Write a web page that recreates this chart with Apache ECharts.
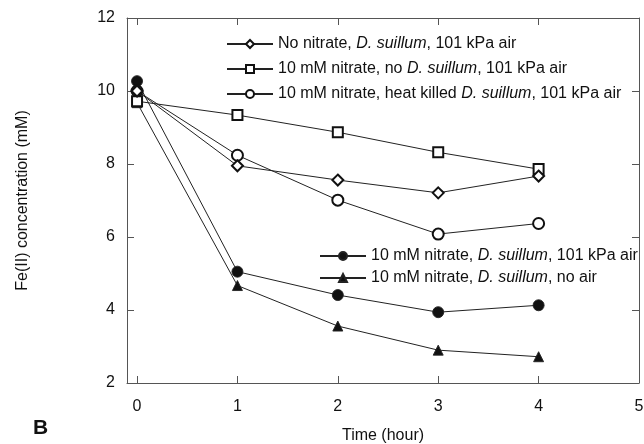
<!DOCTYPE html>
<html>
<head>
<meta charset="utf-8">
<script src="https://cdn.jsdelivr.net/npm/echarts@6/dist/echarts.min.js"></script>
<style>
  html, body { margin: 0; padding: 0; background: #fff; }
  #chart { width: 644px; height: 444px; }
</style>
</head>
<body>
<div id="chart"></div>
<script>
// Sampling times (hours)
const hours = [0, 1, 2, 3, 4];

// Fe(II) concentration (mM) for each treatment
const noNitrateAir      = [10.0, 7.95, 7.56, 7.21, 7.67];
const nitrateNoCellsAir = [9.72, 9.34, 8.87, 8.32, 7.86];
const nitrateHeatKilled = [10.0, 8.24, 7.01, 6.08, 6.37];
const nitrateCellsAir   = [10.27, 5.05, 4.41, 3.94, 4.13];
const nitrateCellsNoAir = [9.68, 4.67, 3.56, 2.90, 2.72];

// Axis tick positions
const xTicks = [0, 1, 2, 3, 4, 5];
const yTicks = [2, 4, 6, 8, 10, 12];

// Legend labels (rich text keeps the species name italic)
const labels = {
  a: '{n|No nitrate, }{i|D. suillum}{n|, 101 kPa air}',
  b: '{n|10 mM nitrate, no }{i|D. suillum}{n|, 101 kPa air}',
  c: '{n|10 mM nitrate, heat killed }{i|D. suillum}{n|, 101 kPa air}',
  d: '{n|10 mM nitrate, }{i|D. suillum}{n|, 101 kPa air}',
  e: '{n|10 mM nitrate, }{i|D. suillum}{n|, no air}'
};

const FONT = 'Liberation Sans, Arial, Helvetica, sans-serif';
const INK = '#111';
const FRAME = '#555';
const FS = 16;

const pairs = vals => hours.map((h, i) => [h, vals[i]]);

function lineSeries(key, vals, symbol, size) {
  return {
    name: key,
    type: 'line',
    data: pairs(vals),
    symbol: symbol,
    symbolSize: size,
    showAllSymbol: true,
    lineStyle: { color: '#222', width: 1 },
    itemStyle: { color: INK, borderColor: '#222', borderWidth: 0.9 },
    emphasis: { disabled: true },
    animation: false
  };
}

const rich = {
  n: { fontFamily: FONT, fontSize: FS, color: INK, lineHeight: 18 },
  i: { fontFamily: FONT, fontSize: FS, color: INK, lineHeight: 18, fontStyle: 'italic' }
};

const legendBase = {
  orient: 'vertical',
  itemWidth: 46,
  itemHeight: 10,
  padding: 0,
  selectedMode: false,
  formatter: name => labels[name],
  textStyle: { fontFamily: FONT, fontSize: FS, color: INK, rich: rich }
};

// Shared frame styling: every side of the plot box carries inward ticks
const frameLine = { show: true, onZero: false, lineStyle: { color: FRAME, width: 1 } };
const tick = vals => ({ show: true, inside: true, length: 7, customValues: vals, lineStyle: { color: FRAME } });
const hiddenLabel = vals => ({ show: true, customValues: vals, formatter: () => '' });

const chart = echarts.init(document.getElementById('chart'), null, { renderer: 'canvas' });

chart.setOption({
  backgroundColor: '#fff',
  animation: false,
  grid: { left: 127, right: 5, top: 18, bottom: 61, containLabel: false, outerBoundsMode: 'none' },
  legend: [
    Object.assign({}, legendBase, { data: ['a', 'b', 'c'], left: 226, top: 36, itemGap: 9 }),
    Object.assign({}, legendBase, { data: ['d', 'e'], left: 319, top: 248, itemGap: 6 })
  ],
  xAxis: [
    {
      type: 'value', position: 'bottom', min: -0.1, max: 5,
      name: 'Time (hour)', nameLocation: 'middle', nameGap: 45,
      nameTextStyle: { fontFamily: FONT, fontSize: FS, color: INK },
      axisLine: frameLine,
      axisTick: tick(xTicks),
      axisLabel: { customValues: xTicks, margin: 16, fontFamily: FONT, fontSize: FS, color: INK },
      splitLine: { show: false }
    },
    {
      type: 'value', position: 'top', min: -0.1, max: 5,
      axisLine: frameLine,
      axisTick: tick(xTicks),
      axisLabel: hiddenLabel(xTicks),
      splitLine: { show: false }
    }
  ],
  yAxis: [
    {
      type: 'value', position: 'left', min: 2, max: 12, interval: 2,
      name: 'Fe(II) concentration (mM)', nameLocation: 'middle', nameGap: 96,
      nameTextStyle: { fontFamily: FONT, fontSize: FS, color: INK },
      axisLine: frameLine,
      axisTick: tick(yTicks),
      axisLabel: { customValues: yTicks, margin: 12, fontFamily: FONT, fontSize: FS, color: INK },
      splitLine: { show: false }
    },
    {
      type: 'value', position: 'right', min: 2, max: 12, interval: 2,
      axisLine: frameLine,
      axisTick: tick(yTicks),
      axisLabel: hiddenLabel(yTicks),
      splitLine: { show: false }
    }
  ],
  graphic: [
    {
      type: 'text', left: 33, top: 418,
      style: { text: 'B', fontFamily: FONT, fontSize: 21, fontWeight: 'bold', fill: INK }
    }
  ],
  series: [
    lineSeries('e', nitrateCellsNoAir, 'triangle', 10),
    lineSeries('d', nitrateCellsAir, 'circle', 11),
    lineSeries('c', nitrateHeatKilled, 'emptyCircle', 11),
    lineSeries('b', nitrateNoCellsAir, 'emptyRect', 10),
    lineSeries('a', noNitrateAir, 'emptyDiamond', 11)
  ]
});
</script>
</body>
</html>
